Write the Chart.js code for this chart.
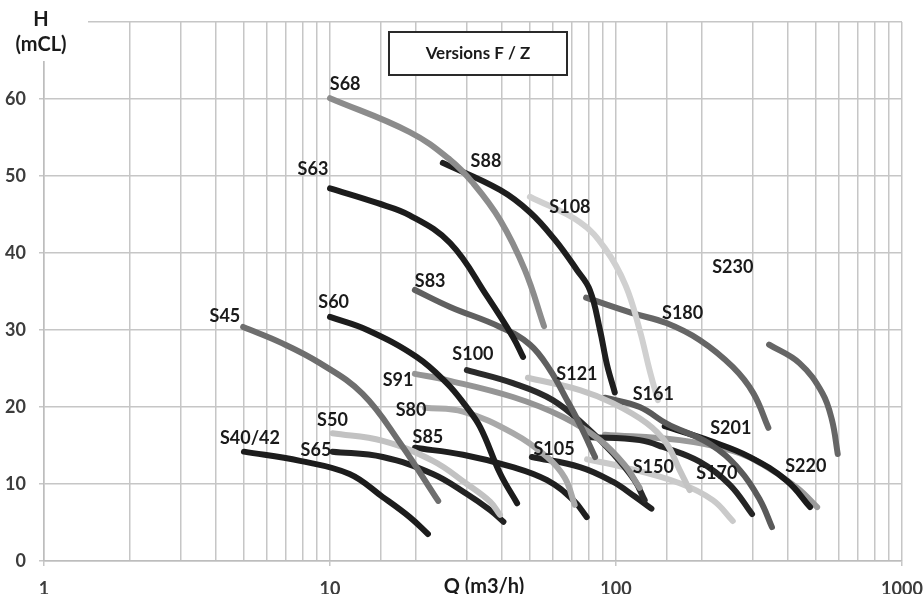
<!DOCTYPE html>
<html>
<head>
<meta charset="utf-8">
<script src="https://cdn.jsdelivr.net/npm/chart.js@4.4.1/dist/chart.umd.min.js"></script>
<style>
  html, body { margin: 0; padding: 0; background: #fff; }
</style>
</head>
<body>
<canvas id="courbesPompes" width="923" height="594"></canvas>
<script>
// pump names, flow Q (m3/h) and head H (mCL)
const pumps = ["S40/42", "S45", "S50", "S60", "S63", "S65", "S68", "S80", "S83", "S85", "S88", "S91",
  "S100", "S105", "S108", "S121", "S150", "S161", "S170", "S180", "S201", "S220", "S230"];

const debitQ = [
  [5, 7.86, 11.7, 15.3, 19.0, 22.0],
  [4.97, 6.79, 9.22, 13.0, 17.6, 23.9],
  [10.2, 15.3, 22.9, 30.1, 36.3, 39.3],
  [10, 13.5, 20.1, 25.6, 29.6, 33.5, 39.3, 45.1],
  [10, 14.6, 19, 26.3, 35.4, 43.6, 47.3],
  [10.2, 15.3, 22.9, 30.1, 36.3, 40.4],
  [10, 19, 26.3, 31.6, 39.3, 48, 56],
  [21.5, 29.2, 43.6, 57.4, 66.2, 71.7],
  [19.8, 26.3, 39.3, 50, 58.8, 67.4, 74.8, 84.5],
  [19.8, 29.2, 43.6, 57.4, 70.9, 79],
  [24.8, 39.3, 50, 61.2, 73, 81, 87.9, 93, 99],
  [19.8, 25.6, 43.6, 65.3, 87.9, 107, 121],
  [30.1, 43.6, 60.1, 78.7, 97.4, 116, 126],
  [50.8, 74.8, 97.4, 116, 133],
  [50, 74.8, 91.5, 108, 121, 131, 140],
  [49.2, 74.8, 97.4, 128, 150, 167, 181],
  [79.2, 106, 167, 218, 256],
  [91.5, 121, 151, 213, 271, 319, 351],
  [79.2, 121, 146, 196, 250, 299],
  [78.6, 114, 150, 196, 256, 302, 341],
  [148, 213, 294, 396, 477],
  [91.5, 167, 256, 327, 430, 505],
  [343, 438, 527, 569, 596]
];

const hauteurH = [
  [14.2, 13.0, 11.3, 8.3, 5.7, 3.5],
  [30.4, 28.3, 25.7, 21.7, 15.3, 7.8],
  [16.6, 15.6, 13.0, 10.0, 7.7, 6.0],
  [31.7, 30, 26.5, 23.1, 20.3, 17.4, 11.4, 7.5],
  [48.4, 46.5, 44.9, 41.3, 34.4, 29.1, 26.5],
  [14.2, 13.5, 11.3, 8.7, 6.6, 5.1],
  [60.1, 55.7, 52.1, 49.1, 44.3, 37.8, 30.5],
  [19.9, 19.4, 16.6, 13.5, 10.8, 7.3],
  [35.2, 33, 30.4, 28.1, 24.8, 20.9, 17.7, 13.5],
  [14.7, 13.8, 12.2, 10.5, 7.9, 5.7],
  [51.7, 48.2, 45.3, 41.7, 37.8, 35.2, 30, 25.5, 21.9],
  [24.3, 23.5, 21.3, 18.7, 15.7, 12.5, 9.5],
  [24.8, 23.1, 20.9, 17.4, 14.0, 10.5, 7.9],
  [13.5, 12.2, 10.3, 8.4, 6.8],
  [47.3, 44, 40.6, 35.8, 30, 24.8, 20.9],
  [23.8, 22.2, 20.5, 17.9, 15.3, 11.8, 9.2],
  [13.2, 12.2, 10.1, 7.9, 5.2],
  [21.2, 20, 17.8, 15.2, 11.8, 7.9, 4.4],
  [16.1, 15.7, 14.8, 12.9, 9.9, 6.1],
  [34.2, 32.2, 30.9, 28.7, 25.2, 21.8, 17.3],
  [17.5, 15.6, 13.5, 10.4, 7.0],
  [16.4, 15.7, 14.3, 12.5, 9.5, 7.0],
  [28.1, 25.7, 21.8, 18.3, 13.9]
];

const xTickLabels = [1, 10, 100, 1000];
const yTickLabels = [0, 10, 20, 30, 40, 50, 60];

// styles
const lineGrays = ["#1c1c1c", "#6e6e6e", "#c2c2c2", "#1c1c1c", "#1c1c1c", "#222222", "#8c8c8c", "#a9a9a9",
  "#606060", "#1e1e1e", "#1e1e1e", "#959595", "#2a2a2a", "#222222", "#d0d0d0", "#c4c4c4",
  "#cacaca", "#5a5a5a", "#252525", "#666666", "#1a1a1a", "#9a9a9a", "#666666"];
// where each name sits, in chart units
const labelQ = [5.25, 4.29, 10.2, 10.3, 8.72, 8.93, 11.3, 19.2, 22.4, 22.0, 35.1, 17.3,
  31.6, 60.7, 69.0, 73.0, 135, 135, 225, 171, 252, 461, 256];
const labelH = [16.0, 31.8, 18.3, 33.6, 50.9, 14.4, 61.9, 19.6, 36.4, 16.1, 51.9, 23.5,
  26.8, 14.5, 46.0, 24.2, 12.2, 21.6, 11.4, 32.2, 17.3, 12.3, 38.1];

const isPow10 = (v) => Math.abs(Math.log10(v) - Math.round(Math.log10(v))) < 1e-9;

const datasets = pumps.map((name, i) => ({
  label: name,
  data: debitQ[i].map((q, k) => ({ x: q, y: hauteurH[i][k] })),
  showLine: true,
  borderColor: lineGrays[i],
  backgroundColor: lineGrays[i],
  borderWidth: 6,
  borderCapStyle: "round",
  borderJoinStyle: "round",
  tension: 0.4,
  pointRadius: 0,
}));

const annotations = {
  id: "annotations",
  afterDraw(chart) {
    const { ctx, chartArea, scales } = chart;
    ctx.save();
    ctx.textAlign = "center";
    ctx.textBaseline = "middle";

    // curve names
    ctx.font = "bold 18px Lato";
    ctx.fillStyle = "#1a1a1a";
    pumps.forEach((name, i) => {
      ctx.fillText(name, scales.x.getPixelForValue(labelQ[i]), scales.y.getPixelForValue(labelH[i]));
    });

    // axis title H over a white patch
    ctx.fillStyle = "#fff";
    ctx.fillRect(0, 0, 88, 61);
    ctx.fillStyle = "#1a1a1a";
    ctx.font = "bold 20px Lato";
    ctx.fillText("H", 41, 20);
    ctx.fillText("(mCL)", 41, 45);

    // axis title Q
    ctx.fillText("Q (m3/h)", (chartArea.left + chartArea.right) / 2 + 11, 587);

    // boxed caption
    ctx.fillStyle = "#fff";
    ctx.fillRect(389, 32, 178, 43);
    ctx.strokeStyle = "#2a2a2a";
    ctx.lineWidth = 2;
    ctx.strokeRect(389, 32, 178, 43);
    ctx.fillStyle = "#1a1a1a";
    ctx.font = "bold 17px Lato";
    ctx.fillText("Versions F / Z", 478, 54);
    ctx.restore();
  },
};

new Chart(document.getElementById("courbesPompes"), {
  type: "scatter",
  data: { datasets: datasets },
  plugins: [annotations],
  options: {
    responsive: false,
    animation: false,
    layout: { padding: { top: 22, right: 21, left: 0, bottom: 0 } },
    plugins: {
      legend: { display: false },
      tooltip: { enabled: false },
    },
    scales: {
      x: {
        type: "logarithmic",
        min: 1,
        max: 1000,
        afterFit: (s) => { s.height = 33; s.paddingLeft = 0; s.paddingRight = 0; },
        grid: {
          color: "#c6c6c6",
          lineWidth: 1.5,
          tickLength: 5,
          tickColor: (c) => (c.tick && isPow10(c.tick.value) ? "#c6c6c6" : "rgba(0,0,0,0)"),
        },
        border: { color: "#bdbdbd", width: 1.5 },
        ticks: {
          autoSkip: false,
          maxRotation: 0,
          padding: 12,
          color: "#3c3c3c",
          font: { family: "Lato", size: 18, weight: "bold" },
          callback: (v) => (xTickLabels.includes(v) ? String(v) : ""),
        },
      },
      y: {
        min: 0,
        max: 70,
        afterFit: (s) => { s.width = 44; s.paddingTop = 0; s.paddingBottom = 0; },
        grid: { color: "#c6c6c6", lineWidth: 1.5, tickLength: 5 },
        border: { color: "#bdbdbd", width: 1.5 },
        ticks: {
          stepSize: 10,
          padding: 13,
          color: "#3c3c3c",
          font: { family: "Lato", size: 18, weight: "bold" },
          callback: (v) => (yTickLabels.includes(v) ? String(v) : ""),
        },
      },
    },
  },
});
</script>
</body>
</html>
